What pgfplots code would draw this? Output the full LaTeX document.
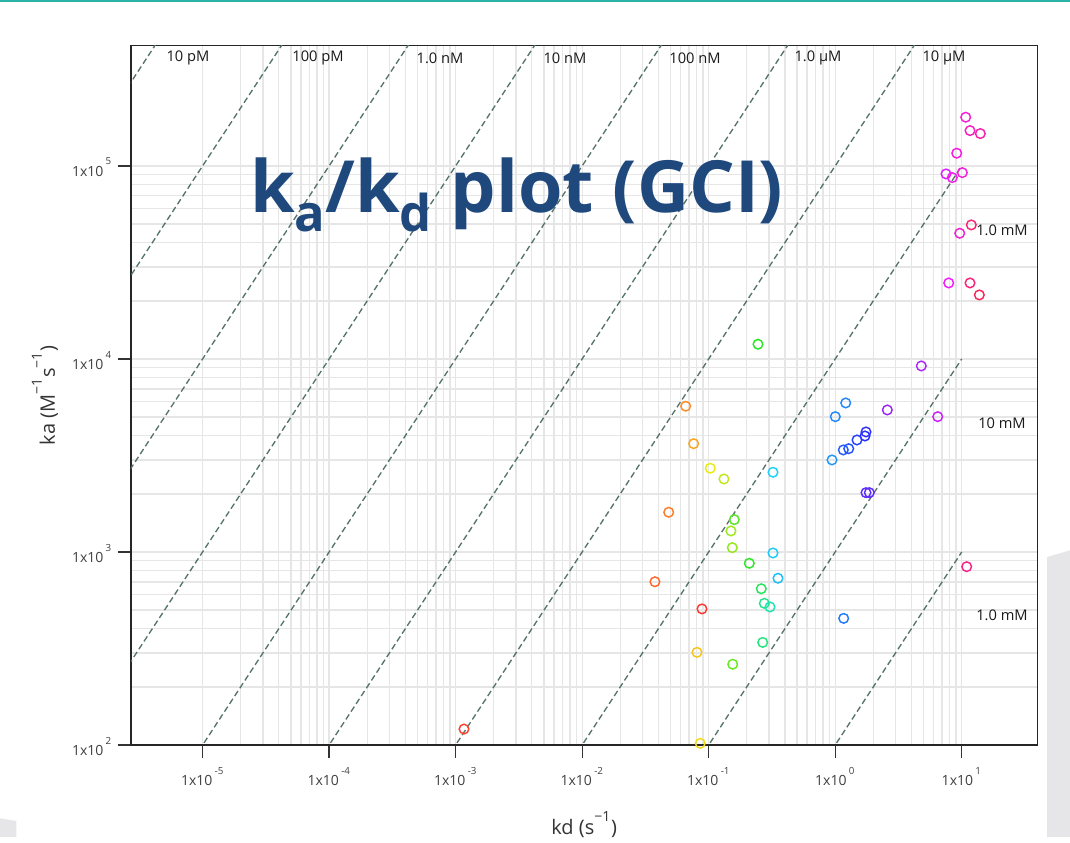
\documentclass[border=0pt]{standalone}
\usepackage{pgfplots}
\pgfplotsset{compat=1.18}
\usepackage{fontspec}
\setmainfont{Open Sans}

\definecolor{isoline}{HTML}{557369}
\definecolor{gridgray}{HTML}{E6E6E6}
\definecolor{titleblue}{HTML}{1F497D}
\definecolor{topteal}{HTML}{2AB3A8}
\definecolor{slidegray}{HTML}{E6E6E8}

\newcommand{\lowsub}[1]{\raisebox{-0.26em}{\fontsize{38}{38}\selectfont #1}}
\newcommand{\hsup}[1]{\raisebox{0.3em}{\textsuperscript{#1}}}
\newcommand{\tsup}[1]{\,\raisebox{0.45em}{\textsuperscript{#1}}}

\pgfplotstableread{
kd        ka      h
1.164e-3  121     5
0.0376    701     18
0.0483    1606    25
0.0658    5690    30
0.0761    3640    38
0.0808    302     48
0.0858    102     55
0.0885    507     2
0.1029    2715    62
0.132     2388    75
0.150     1285    85
0.1537    1053    88
0.1594    1471    105
0.1548    262     100
0.2094    874     118
0.2453    11920   120
0.2604    645     135
0.2673    340     145
0.2752    542     150
0.3052    519     160
0.3224    2588    185
0.3224    988     188
0.3530    731     192
0.9434    2998    205
1.002     5023    210
1.211     5916    210
1.167     453     215
1.159     3377    225
1.279     3429    228
1.487     3804    235
1.720     3990    240
1.752     4186    243
1.752     2029    255
1.861     2029    258
2.582     5442    275
4.793     9199    280
6.461     5023    288
7.514     90900   293
7.893     24760   300
8.428     87000   305
9.130     116400  308
9.643     44800   312
10.11     92300   310
10.75     178800  312
10.95     839     335
11.63     152400  318
11.63     24760   340
11.91     49470   342
13.78     21460   350
14.03     147100  325
}\gcidata

\begin{document}
\begin{tikzpicture}
\begin{axis}[
  name=ax,
  xmode=log, ymode=log,
  scale only axis, width=679.7pt, height=524.5pt,
  xmin=2.716e-6, xmax=39.55, ymin=100, ymax=4.198e5,
  axis line style={draw=black!85, line width=1.1pt},
  tick pos=left, tick align=outside,
  major tick length=9.75pt, minor tick length=0pt,
  tick style={black!80, line width=1pt},
  grid=both,
  major grid style={gridgray, line width=1pt},
  minor grid style={gridgray, line width=1pt},
  xtick={1e-5,1e-4,1e-3,1e-2,1e-1,1,10},
  xticklabels={1x10\tsup{-5},1x10\tsup{-4},1x10\tsup{-3},1x10\tsup{-2},1x10\tsup{-1},1x10\tsup{0},1x10\tsup{1}},
  ytick={100,1000,10000,100000},
  yticklabels={1x10\tsup{2},1x10\tsup{3},1x10\tsup{4},1x10\tsup{5}},
  tick label style={font=\fontsize{10.5}{12}\selectfont, text=black!75},
  xticklabel style={anchor=base, yshift=-21pt},
  yticklabel style={anchor=base east, yshift=-8pt, xshift=-1pt},
  xlabel={kd (s\hsup{−1})},
  ylabel={ka (M\hsup{−1}s\hsup{−1})},
  label style={font=\fontsize{15}{17}\selectfont, text=black!80},
  xlabel style={at={(axis description cs:0.5,-0.114)}, anchor=center},
  ylabel style={at={(axis description cs:-0.0949,0.5)}, anchor=center},
  colormap={gcihue}{rgb255(0cm)=(255,50,50) rgb255(0.5cm)=(255,140,40) rgb255(1cm)=(240,235,20) rgb255(2cm)=(40,230,40) rgb255(3cm)=(30,225,245) rgb255(4cm)=(40,50,255) rgb255(5cm)=(240,30,250) rgb255(6cm)=(255,40,60)},
  point meta min=0, point meta max=360,
]
% iso-affinity lines, KD = kd/ka
\addplot[isoline, line width=1pt, dash pattern=on 4.5pt off 2.5pt] coordinates {(1e-10,10) (10,1e12)};
\addplot[isoline, line width=1pt, dash pattern=on 4.5pt off 2.5pt] coordinates {(1e-9,10) (10,1e11)};
\addplot[isoline, line width=1pt, dash pattern=on 4.5pt off 2.5pt] coordinates {(1e-8,10) (10,1e10)};
\addplot[isoline, line width=1pt, dash pattern=on 4.5pt off 2.5pt] coordinates {(1e-7,10) (10,1e9)};
\addplot[isoline, line width=1pt, dash pattern=on 4.5pt off 2.5pt] coordinates {(1e-6,10) (10,1e8)};
\addplot[isoline, line width=1pt, dash pattern=on 4.5pt off 2.5pt] coordinates {(1e-5,10) (10,1e7)};
\addplot[isoline, line width=1pt, dash pattern=on 4.5pt off 2.5pt] coordinates {(1e-4,10) (10,1e6)};
\addplot[isoline, line width=1pt, dash pattern=on 4.5pt off 2.5pt] coordinates {(1e-3,10) (10,1e5)};
\addplot[isoline, line width=1pt, dash pattern=on 4.5pt off 2.5pt] coordinates {(1e-2,10) (10,1e4)};
\addplot[isoline, line width=1pt, dash pattern=on 4.5pt off 2.5pt] coordinates {(1e-1,10) (10,1e3)};
% measured kinetics
\addplot[scatter, only marks, mark=o, mark size=3.6pt, line width=1.1pt,
  point meta=explicit,
  scatter/use mapped color={draw=mapped color, fill=none}]
  table[x=kd, y=ka, meta=h] {\gcidata};
\end{axis}

\begin{scope}[shift={(ax.south west)}]
  \path[use as bounding box] (-98.25pt,-69pt) rectangle (704.25pt,558.75pt);
  \fill[slidegray] (687pt,141pt) -- (704.25pt,146pt) -- (704.25pt,-69pt) -- (687pt,-69pt) -- cycle;
  \fill[slidegray] (-98.25pt,-55pt) -- (-86pt,-57pt) -- (-86pt,-69pt) -- (-98.25pt,-69pt) -- cycle;
  \draw[topteal, line width=1.5pt] (-98.25pt,558pt) -- (704.25pt,558pt);
  \begin{scope}[every node/.style={font=\fontsize{11}{13}\selectfont, text=black!90}]
    \node at (42.75pt,515.25pt) {10 pM};
    \node at (140.25pt,515.25pt) {100 pM};
    \node at (231.75pt,515.25pt) {1.0 nM};
    \node at (325.5pt,515.25pt) {10 nM};
    \node at (423pt,515.25pt) {100 nM};
    \node at (515.25pt,515.25pt) {1.0 µM};
    \node at (609.75pt,515.25pt) {10 µM};
    \node at (653.25pt,386.25pt) {1.0 mM};
    \node at (653.25pt,241.5pt) {10 mM};
    \node at (653.25pt,97.5pt) {1.0 mM};
  \end{scope}
  \node[anchor=base west, inner sep=0pt, text=titleblue, font=\fontsize{54}{60}\selectfont\bfseries]
    at (89.25pt,399pt) {k\lowsub{a}/k\lowsub{d} plot (GCI)};
\end{scope}
\end{tikzpicture}
\end{document}
